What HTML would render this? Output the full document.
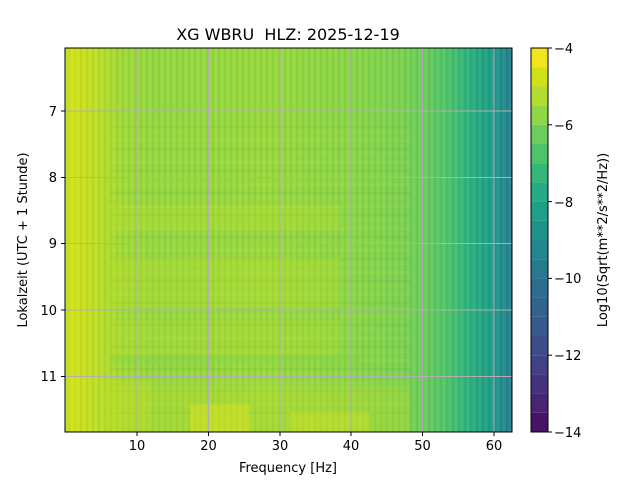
<!DOCTYPE html>
<html><head><style>
body{margin:0;background:#fff;}
svg text{font-family:"DejaVu Sans","Liberation Sans",sans-serif;fill:#000;}
</style></head><body>
<svg width="640" height="480" xmlns="http://www.w3.org/2000/svg">
<defs>
<linearGradient id="hg" x1="65" x2="512" y1="0" y2="0" gradientUnits="userSpaceOnUse">
<stop offset="0" stop-color="#bcde27"/>
<stop offset="0.02" stop-color="#cde11d"/>
<stop offset="0.06" stop-color="#c2df23"/>
<stop offset="0.12" stop-color="#a2da37"/>
<stop offset="0.2" stop-color="#93d741"/>
<stop offset="0.45" stop-color="#98d83e"/>
<stop offset="0.62" stop-color="#8bd646"/>
<stop offset="0.75" stop-color="#7cd250"/>
<stop offset="0.8" stop-color="#6ccd5a"/>
<stop offset="0.86" stop-color="#4cc26c"/>
<stop offset="0.9" stop-color="#2fb47c"/>
<stop offset="0.94" stop-color="#22a385"/>
<stop offset="0.97" stop-color="#20928c"/>
<stop offset="1" stop-color="#27808e"/>
</linearGradient>
<pattern id="vs" width="6" height="384" patternUnits="userSpaceOnUse" x="65" y="48">
<rect x="0" y="0" width="2" height="384" fill="#ffffff" opacity="0.05"/>
<rect x="3" y="0" width="2" height="384" fill="#000" opacity="0.04"/>
</pattern>
<pattern id="hs" width="447" height="22" patternUnits="userSpaceOnUse" x="65" y="48">
<rect x="0" y="3" width="447" height="3" fill="#fde725" opacity="0.1"/>
<rect x="0" y="12" width="447" height="2" fill="#000" opacity="0.03"/>
<rect x="0" y="17" width="447" height="2" fill="#fde725" opacity="0.06"/>
</pattern>
</defs>
<text x="288" y="40" font-size="16" text-anchor="middle">XG WBRU&#160; HLZ: 2025-12-19</text>
<rect x="65" y="48" width="447" height="384" fill="url(#hg)"/>
<rect x="65" y="48" width="447" height="384" fill="url(#vs)"/>
<rect x="110" y="120" width="300" height="300" fill="url(#hs)"/>
<rect x="110" y="205" width="230" height="25" fill="#c8e020" opacity="0.25"/>
<rect x="110" y="258" width="230" height="50" fill="#c8e020" opacity="0.25"/>
<rect x="110" y="320" width="230" height="35" fill="#c8e020" opacity="0.2"/>
<rect x="110" y="355" width="250" height="8" fill="#7ad151" opacity="0.3"/>
<rect x="110" y="385" width="300" height="47" fill="#c8e020" opacity="0.28"/>
<rect x="190" y="405" width="60" height="27" fill="#e8e419" opacity="0.4"/>
<rect x="290" y="412" width="80" height="20" fill="#e8e419" opacity="0.3"/>
<rect x="67" y="48" width="10" height="384" fill="#e0e318" opacity="0.3"/>
<rect x="100" y="380" width="50" height="52" fill="#c8e020" opacity="0.25"/>
<g stroke="#b0b0b0" stroke-width="1">
<line x1="137" y1="48" x2="137" y2="432"/><line x1="208.5" y1="48" x2="208.5" y2="432"/>
<line x1="280" y1="48" x2="280" y2="432"/><line x1="351" y1="48" x2="351" y2="432"/>
<line x1="422.5" y1="48" x2="422.5" y2="432"/><line x1="494" y1="48" x2="494" y2="432"/>
<line x1="65" y1="111" x2="512" y2="111"/><line x1="65" y1="177.5" x2="512" y2="177.5"/>
<line x1="65" y1="243.5" x2="512" y2="243.5"/><line x1="65" y1="310" x2="512" y2="310"/>
<line x1="65" y1="376.5" x2="512" y2="376.5"/>
</g>
<rect x="65" y="48" width="447" height="384" fill="none" stroke="#000" stroke-width="1"/>
<g stroke="#000" stroke-width="1">
<line x1="137" y1="432" x2="137" y2="436"/><line x1="208.5" y1="432" x2="208.5" y2="436"/>
<line x1="280" y1="432" x2="280" y2="436"/><line x1="351" y1="432" x2="351" y2="436"/>
<line x1="422.5" y1="432" x2="422.5" y2="436"/><line x1="494" y1="432" x2="494" y2="436"/>
<line x1="61" y1="111" x2="65" y2="111"/><line x1="61" y1="177.5" x2="65" y2="177.5"/>
<line x1="61" y1="243.5" x2="65" y2="243.5"/><line x1="61" y1="310" x2="65" y2="310"/>
<line x1="61" y1="376.5" x2="65" y2="376.5"/>
</g>
<g font-size="13" text-anchor="middle">
<text x="137" y="450">10</text><text x="208.5" y="450">20</text><text x="280" y="450">30</text>
<text x="351" y="450">40</text><text x="422.5" y="450">50</text><text x="494" y="450">60</text>
</g>
<g font-size="13" text-anchor="end">
<text x="57" y="116">7</text><text x="57" y="182">8</text><text x="57" y="248">9</text>
<text x="57" y="315">10</text><text x="57" y="381">11</text>
</g>
<text x="288" y="472" font-size="13" text-anchor="middle">Frequency [Hz]</text>
<text transform="translate(27,240) rotate(-90)" font-size="13" text-anchor="middle">Lokalzeit (UTC + 1 Stunde)</text>
<g>
<rect x="531" y="48" width="17" height="19.2" fill="#f1e51d"/>
<rect x="531" y="67.2" width="17" height="19.2" fill="#d0e11c"/>
<rect x="531" y="86.4" width="17" height="19.2" fill="#b0dd2f"/>
<rect x="531" y="105.6" width="17" height="19.2" fill="#8fd744"/>
<rect x="531" y="124.8" width="17" height="19.2" fill="#6ccd5a"/>
<rect x="531" y="144" width="17" height="19.2" fill="#4ec36b"/>
<rect x="531" y="163.2" width="17" height="19.2" fill="#35b779"/>
<rect x="531" y="182.4" width="17" height="19.2" fill="#25ac82"/>
<rect x="531" y="201.6" width="17" height="19.2" fill="#1f9f88"/>
<rect x="531" y="220.8" width="17" height="19.2" fill="#1f938b"/>
<rect x="531" y="240" width="17" height="19.2" fill="#22868d"/>
<rect x="531" y="259.2" width="17" height="19.2" fill="#277a8e"/>
<rect x="531" y="278.4" width="17" height="19.2" fill="#2c6e8e"/>
<rect x="531" y="297.6" width="17" height="19.2" fill="#31638e"/>
<rect x="531" y="316.8" width="17" height="19.2" fill="#375a8c"/>
<rect x="531" y="336" width="17" height="19.2" fill="#3d4d8a"/>
<rect x="531" y="355.2" width="17" height="19.2" fill="#424186"/>
<rect x="531" y="374.4" width="17" height="19.2" fill="#46337f"/>
<rect x="531" y="393.6" width="17" height="19.2" fill="#482475"/>
<rect x="531" y="412.8" width="17" height="19.2" fill="#471365"/>
<rect x="531" y="48" width="17" height="384" fill="none" stroke="#000" stroke-width="1"/>
</g>
<g stroke="#000"><line x1="548" y1="48" x2="552" y2="48"/><line x1="548" y1="124.8" x2="552" y2="124.8"/>
<line x1="548" y1="201.6" x2="552" y2="201.6"/><line x1="548" y1="278.4" x2="552" y2="278.4"/>
<line x1="548" y1="355.2" x2="552" y2="355.2"/><line x1="548" y1="432" x2="552" y2="432"/></g>
<g font-size="13">
<text x="554" y="53">−4</text><text x="554" y="130">−6</text><text x="554" y="207">−8</text>
<text x="554" y="283">−10</text><text x="554" y="360">−12</text><text x="554" y="437">−14</text>
</g>
<text transform="translate(607,240) rotate(-90)" font-size="13" text-anchor="middle">Log10(Sqrt(m**2/s**2/Hz))</text>
</svg>
</body></html>
